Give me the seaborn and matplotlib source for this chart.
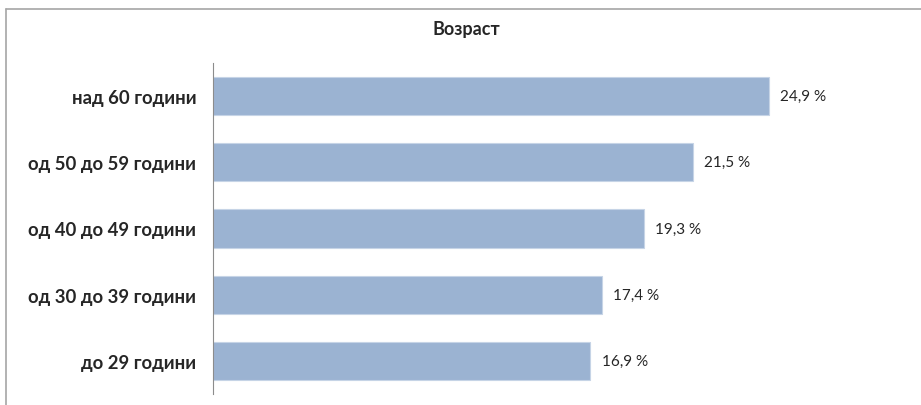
import matplotlib
matplotlib.use("Agg")
import matplotlib.pyplot as plt
import seaborn as sns
import pandas as pd
from matplotlib.lines import Line2D

categories = ["над 60 години", "од 50 до 59 години", "од 40 до 49 години",
              "од 30 до 39 години", "до 29 години"]
values = [24.9, 21.5, 19.3, 17.4, 16.9]
title = "Возраст"

df = pd.DataFrame({"category": categories, "value": values})

sns.set_style("white")
plt.rcParams["font.family"] = ["Lato", "DejaVu Sans"]

fig = plt.figure(figsize=(9.21, 4.06), dpi=100)
ax = fig.add_axes([213 / 921, 11 / 406, 670 / 921, 331 / 406])

sns.barplot(data=df, x="value", y="category", orient="h", color="#9BB3D2",
            saturation=1, width=0.58, edgecolor="#C6D4E6", linewidth=0.8, ax=ax)

for i, v in enumerate(values):
    ax.text(v + 0.5, i, f"{v:.1f} %".replace(".", ","), va="center", ha="left",
            fontsize=11, color="#262626")

ax.set_xlim(0, 30)
ax.set_ylim(4.5, -0.5)
ax.set_xlabel("")
ax.set_ylabel("")
ax.set_xticks([])
ax.tick_params(axis="y", length=0, pad=12)
for lbl in ax.get_yticklabels():
    lbl.set_fontweight("bold")
    lbl.set_fontsize(13.3)
    lbl.set_color("#262626")
for s in ["top", "right", "bottom"]:
    ax.spines[s].set_visible(False)
ax.spines["left"].set_color("#8C8C8C")
ax.spines["left"].set_linewidth(0.8)

fig.text(466 / 921, 1 - 30 / 406, title, ha="center", va="center",
         fontsize=13, fontweight="bold", color="#262626")

# outer chart frame (top and left edges visible)
fig.add_artist(Line2D([6 / 921, 6 / 921], [0, 1 - 10 / 406], color="#A6A6A6", lw=1.2))
fig.add_artist(Line2D([6 / 921, 1], [1 - 10 / 406, 1 - 10 / 406], color="#A6A6A6", lw=1.2))

fig.savefig("out.png", dpi=100)
